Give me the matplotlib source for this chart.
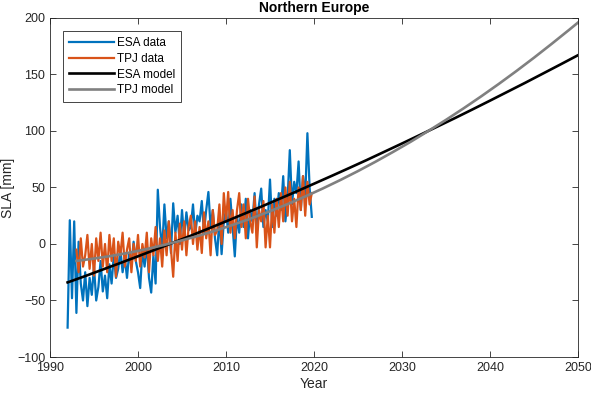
import matplotlib.pyplot as plt
import numpy as np

plt.rcParams['font.family'] = ['Liberation Sans', 'DejaVu Sans']

# quarterly samples
esa_start = 1992.0
esa_sla = [
    -74, 21, -48, 20,
    -61, 2, -35, -50,
    -25, -55, -30, -45,
    -20, -50, -38, -15,
    -42, -28, -48, -18,
    -35, -10, -30, -22,
    -5, -25, -12, -30,
    -8, -20, 2, -15,
    -25, -39, -5, -20,
    0, -30, -43, -10,
    -35, 48, 15, -5,
    35, 5, 20, -8,
    36, 10, 25, 0,
    30, 5, 28, 12,
    15, 35, 8, 25,
    20, 38, 10, 30,
    46, 15, 30, 5,
    -10, 25, -9, 20,
    30, 10, 40, 15,
    -11, 25, 10, 35,
    15, 40, 5, 30,
    20, 45, 10, 35,
    49, 15, 30, 20,
    57, 15, 40, 25,
    45, 30, 60, 20,
    40, 83, 35, 55,
    45, 73, 30, 60,
    40, 98, 50, 24,
]

tpj_start = 1993.0
tpj_sla = [
    -5, -25, 5, -20,
    -10, 8, -22, 0,
    -28, 5, -15, 10,
    -20, 0, -25, 8,
    -15, 5, -29, 2,
    -10, 10, -20, -5,
    5, -25, 0, -15,
    8, -20, 0, -12,
    10, -25, 5, -10,
    15, -15, 5, -20,
    12, -10, 20, -5,
    -29, 10, -15, 18,
    -5, 20, -10, 15,
    25, 0, 20, -5,
    15, -8, 28, 5,
    20, -10, 30, 8,
    12, 35, 0, 45,
    20, 46, 10, 30,
    5, 30, 45, 15,
    35, 5, 40, 20,
    10, 42, -3, 30,
    20, 38, -3, 25,
    -3, 35, 10, 40,
    15, 45, 20, 50,
    25, 55, 20, 40,
    15, 50, 30, 60,
    25, 55, 35, 45,
]

# model curves, read every two years
esa_model_years = list(range(1992, 2051, 2))
esa_model = [-34.0, -28.4, -22.6, -16.8, -10.9, -4.9, 1.2, 7.3, 13.6, 20.0,
             26.5, 33.0, 39.7, 46.4, 53.3, 60.2, 67.2, 74.3, 81.6, 88.9,
             96.3, 103.8, 111.3, 119.0, 126.8, 134.7, 142.6, 150.7, 158.8, 167.0]

tpj_model_years = list(range(1993, 2050, 2)) + [2050]
tpj_model = [-15.0, -12.9, -10.5, -7.7, -4.5, -0.8, 3.2, 7.5, 12.3, 17.5,
             23.0, 29.0, 35.3, 42.0, 49.1, 56.6, 64.5, 72.8, 81.5, 90.5,
             100.0, 109.8, 120.0, 130.6, 141.6, 153.0, 164.8, 177.0, 189.5, 195.9]

esa_t = esa_start + np.arange(len(esa_sla)) / 4
tpj_t = tpj_start + np.arange(len(tpj_sla)) / 4

fig = plt.figure(figsize=(5.91, 3.98), dpi=100)
ax = fig.add_axes([0.0846, 0.103, 0.8934, 0.852])

ax.plot(esa_t, esa_sla, color='#0072BD', lw=1.6, label='ESA data')
ax.plot(tpj_t, tpj_sla, color='#D95319', lw=1.6, label='TPJ data')
ax.plot(esa_model_years, esa_model, color='black', lw=1.9, label='ESA model')
ax.plot(tpj_model_years, tpj_model, color='#808080', lw=1.9, label='TPJ model')

ax.set_xlim(1990, 2050)
ax.set_ylim(-100, 200)
ax.set_xticks(range(1990, 2051, 10))
ax.set_yticks(range(-100, 201, 50))
ax.tick_params(direction='in', length=4, top=True, right=True,
               labelsize=9, colors='#262626', width=0.6)
for s in ax.spines.values():
    s.set_color('#262626')
    s.set_linewidth(0.6)

ax.set_xlabel('Year', fontsize=10, color='#262626', labelpad=2)
ax.set_ylabel('SLA [mm]', fontsize=10, color='#262626', labelpad=1)
ax.set_title('Northern Europe', fontsize=10, fontweight='bold', pad=4)

leg = ax.legend(loc='upper left', fontsize=8.5, handlelength=3.8,
                fancybox=False, edgecolor='#262626', framealpha=1,
                borderaxespad=1.1, borderpad=0.5, labelspacing=0.33,
                handletextpad=0.3)
leg.get_frame().set_linewidth(0.6)

fig.savefig('out.png', dpi=100)
